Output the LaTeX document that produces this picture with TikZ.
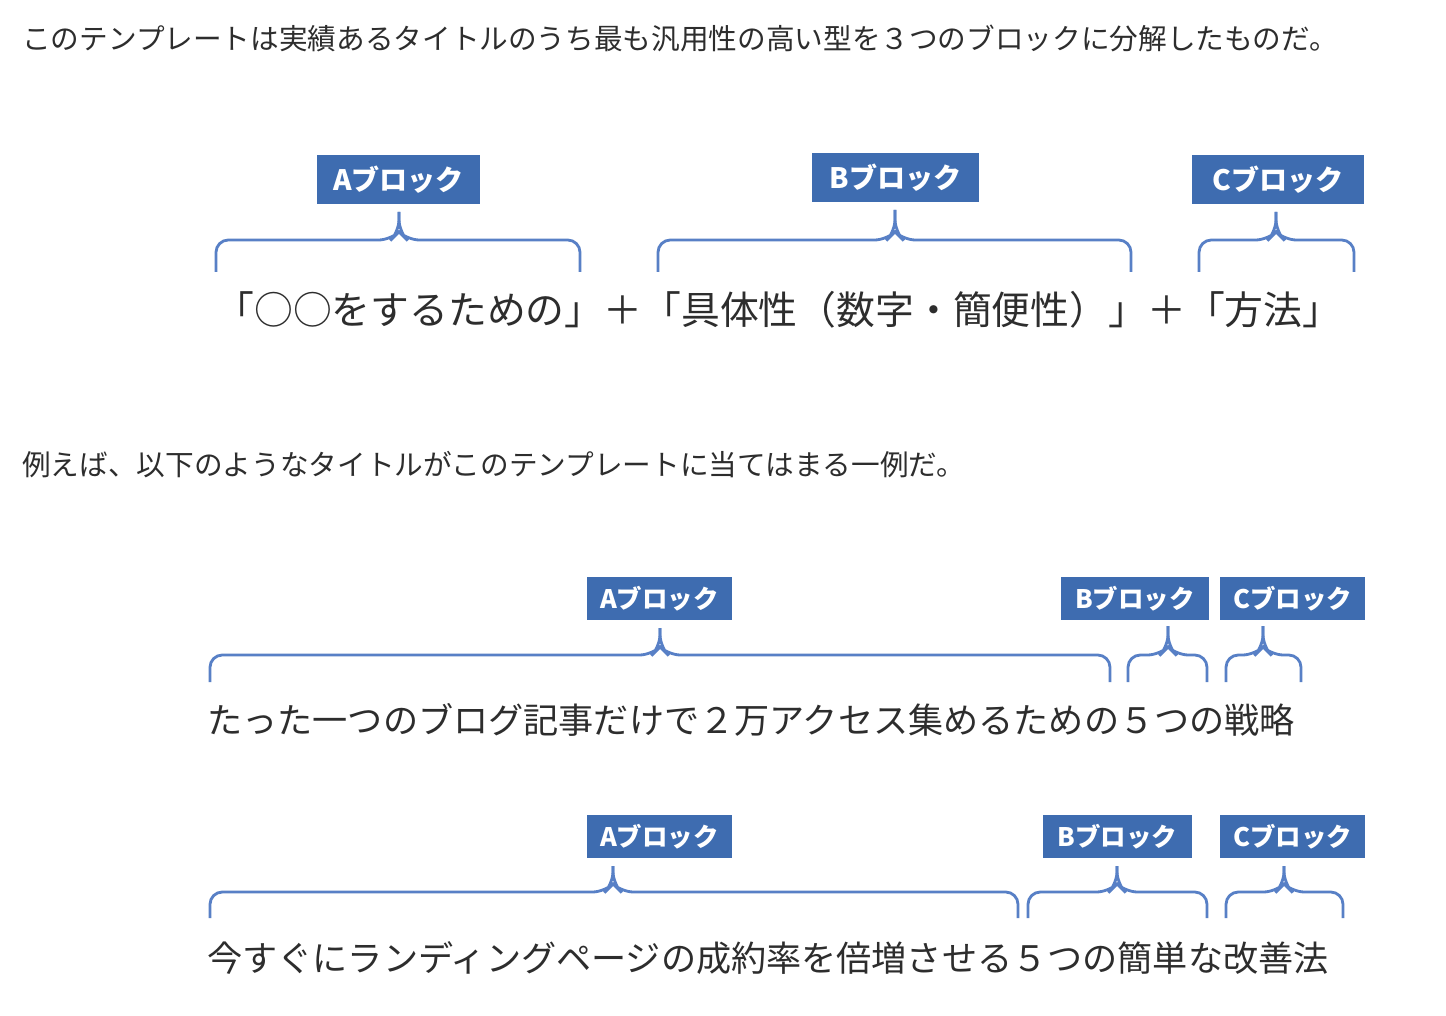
\documentclass[tikz,border=0pt]{standalone}
\usepackage{fontspec}
\setmainfont{Noto Sans CJK JP}
\definecolor{blockblue}{RGB}{62,108,176}
\definecolor{bracecol}{RGB}{88,128,198}
\definecolor{txtgray}{RGB}{45,45,45}
\tikzset{
  block/.style={fill=blockblue,text=white,inner sep=0pt,font=\fontsize{16}{18}\selectfont\bfseries},
  bodytext/.style={anchor=west,inner sep=0pt,text=txtgray},
  bracebl/.style={draw=bracecol,line width=1.6pt,rounded corners=7pt}
}
% left, right, tip, top, bottom, tip top
\newcommand\blockbrace[6]{%
  \draw[bracebl] (#1,#5) -- (#1,#4) -- (#3-8,#4) -- (#3,#4-8) -- (#3,#6);
  \draw[bracebl] (#3,#6) -- (#3,#4-8) -- (#3+8,#4) -- (#2,#4) -- (#2,#5);}
\begin{document}
\begin{tikzpicture}[x=0.02cm,y=-0.02cm]
\useasboundingbox[fill=white] (0,0) rectangle (1446,1016);
\path (22,38) node[bodytext,font=\fontsize{16.3}{18}\selectfont] (intro)
  {このテンプレートは実績あるタイトルのうち最も汎用性の高い型を３つのブロックに分解したものだ。};

\path (398.5,179.5) node[block,minimum width=163\pgflinewidth,minimum height=49\pgflinewidth,minimum width=3.26cm,minimum height=0.98cm] (A0) {Aブロック};
\path (895.5,177.5) node[block,minimum width=3.34cm,minimum height=0.98cm] (B0) {Bブロック};
\path (1278,179.5) node[block,minimum width=3.44cm,minimum height=0.98cm] (C0) {Cブロック};
\blockbrace{216}{580}{399}{240}{272}{212}
\blockbrace{658}{1131}{895}{240}{272}{210}
\blockbrace{1199}{1354}{1276}{240}{272}{212}
\path (215,310) node[bodytext,font=\fontsize{22.1}{24}\selectfont] (tmpl)
  {「○○をするための」＋「具体性（数字・簡便性）」＋「方法」};

\path (22,465) node[bodytext,font=\fontsize{16.3}{18}\selectfont] (ex)
  {例えば、以下のようなタイトルがこのテンプレートに当てはまる一例だ。};

\path (659.5,598.5) node[block,font=\fontsize{14.5}{16}\selectfont\bfseries,minimum width=2.9cm,minimum height=0.86cm] (A1) {Aブロック};
\path (1135,598.5) node[block,font=\fontsize{14.5}{16}\selectfont\bfseries,minimum width=2.96cm,minimum height=0.86cm] (B1) {Bブロック};
\path (1292.5,598.5) node[block,font=\fontsize{14.5}{16}\selectfont\bfseries,minimum width=2.9cm,minimum height=0.86cm] (C1) {Cブロック};
\blockbrace{210}{1110}{660}{655}{682}{628}
\blockbrace{1128}{1207}{1168}{655}{682}{626}
\blockbrace{1226}{1301}{1263}{655}{682}{626}
\path (207,720) node[bodytext,font=\fontsize{20}{22}\selectfont] (ex1)
  {たった一つのブログ記事だけで２万アクセス集めるための５つの戦略};

\path (659.5,836.5) node[block,font=\fontsize{14.5}{16}\selectfont\bfseries,minimum width=2.9cm,minimum height=0.86cm] (A2) {Aブロック};
\path (1117.5,836.5) node[block,font=\fontsize{14.5}{16}\selectfont\bfseries,minimum width=2.98cm,minimum height=0.86cm] (B2) {Bブロック};
\path (1292.5,836.5) node[block,font=\fontsize{14.5}{16}\selectfont\bfseries,minimum width=2.9cm,minimum height=0.86cm] (C2) {Cブロック};
\blockbrace{210}{1018}{613}{892}{918}{866}
\blockbrace{1028}{1207}{1117}{892}{918}{866}
\blockbrace{1226}{1343}{1284}{892}{918}{866}
\path (207,958) node[bodytext,font=\fontsize{20}{22}\selectfont] (ex2)
  {今すぐにランディングページの成約率を倍増させる５つの簡単な改善法};
\end{tikzpicture}
\end{document}
